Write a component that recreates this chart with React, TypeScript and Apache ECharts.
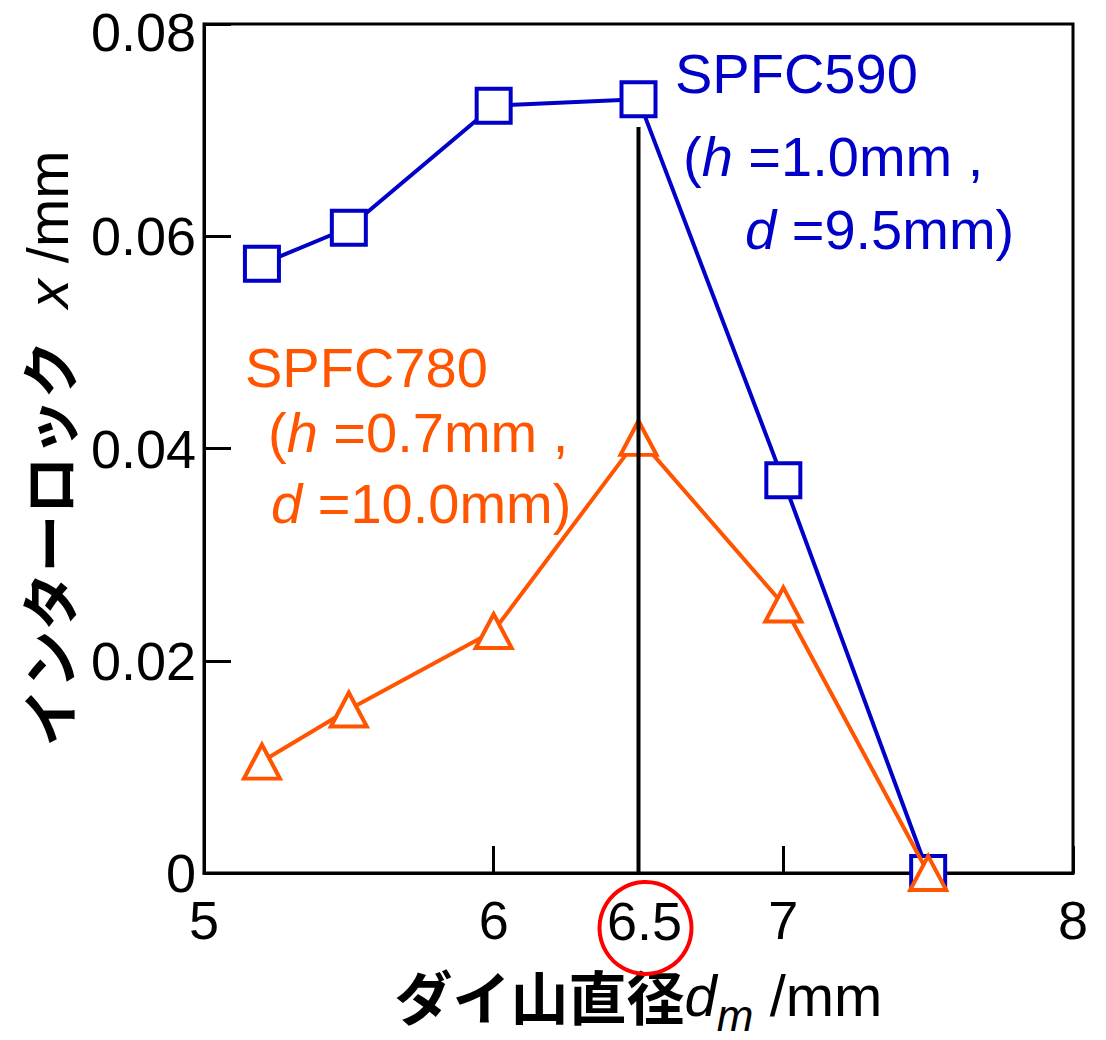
import React, { useEffect, useRef } from 'react';
import * as echarts from 'echarts';

// ---- data ----
const diameters = [5.2, 5.5, 6.0, 6.5, 7.0, 7.5];
const spfc590 = [0.0574, 0.0608, 0.0723, 0.0729, 0.037, 0];
const spfc780 = [0.0105, 0.0154, 0.0228, 0.041, 0.0253, 0];
const markerX = 6.5;
const markerTop = 0.0703;
const xTicks = [5, 6, 7, 8];
const yTicks = [0, 0.02, 0.04, 0.06, 0.08];

const BLUE = '#0000C8';
const ORANGE = '#FF5500';
const LATIN = "'Liberation Sans', Arial, sans-serif";
const CJK = "'Noto Sans CJK JP', 'Noto Sans CJK SC', sans-serif";

export default function App() {
  const ref = useRef<HTMLDivElement>(null);

  useEffect(() => {
    if (!ref.current) return;
    const chart = echarts.init(ref.current, undefined, { renderer: 'svg' });

    const pairs = (ys: number[]) => diameters.map((x, i) => [x, ys[i]]);

    const nameRich = {
      j: { fontFamily: CJK, fontWeight: 'bold', fontSize: 58, color: '#000' },
      i: { fontFamily: LATIN, fontStyle: 'italic', fontSize: 58, color: '#000' },
      n: { fontFamily: LATIN, fontSize: 58, color: '#000' },
      s: { fontFamily: LATIN, fontStyle: 'italic', fontSize: 44, color: '#000', padding: [40, 0, 0, 0] },
    };

    const yMax = yTicks[yTicks.length - 1];

    chart.setOption({
      animation: false,
      backgroundColor: '#fff',
      grid: {
        left: 204,
        right: 33,
        top: 24,
        bottom: 167,
        show: true,
        borderColor: '#000',
        borderWidth: 3,
        outerBoundsMode: 'none',
        containLabel: false,
      },
      xAxis: {
        type: 'value',
        min: xTicks[0],
        max: xTicks[xTicks.length - 1],
        interval: 1,
        axisLine: { lineStyle: { color: '#000', width: 3 } },
        axisTick: { inside: true, length: 27, lineStyle: { color: '#000', width: 3 } },
        axisLabel: { fontSize: 54, color: '#000', fontFamily: LATIN, margin: 25, lineHeight: 44 },
        splitLine: { show: false },
        name: '{j|ダイ山直径}{i|d}{s|m}{n| /mm}',
        nameLocation: 'middle',
        nameGap: 80,
        nameTextStyle: { fontSize: 58, fontFamily: LATIN, color: '#000', rich: nameRich },
      },
      yAxis: {
        type: 'value',
        min: yTicks[0],
        max: yMax,
        interval: 0.02,
        axisLine: { lineStyle: { color: '#000', width: 3 } },
        axisTick: { inside: true, length: 27, lineStyle: { color: '#000', width: 3 } },
        axisLabel: {
          fontSize: 54,
          color: '#000',
          fontFamily: LATIN,
          margin: 8,
          lineHeight: 44,
          formatter: (v: number) =>
            v === 0 ? '0' : v >= yMax - 1e-9 ? '{t|' + v.toFixed(2) + '}' : v.toFixed(2),
          rich: {
            t: { fontSize: 54, fontFamily: LATIN, color: '#000', lineHeight: 44, padding: [16, 0, 0, 0] },
          },
        },
        splitLine: { show: false },
        name: '{j|インターロック}  {i|x} {n|/mm}',
        nameLocation: 'middle',
        nameGap: 128,
        nameTextStyle: { fontSize: 58, fontFamily: LATIN, color: '#000', rich: nameRich },
      },
      series: [
        {
          type: 'line',
          name: 'SPFC590',
          data: pairs(spfc590),
          clip: false,
          symbol: 'rect',
          symbolSize: 34,
          lineStyle: { color: BLUE, width: 4 },
          itemStyle: { color: '#fff', borderColor: BLUE, borderWidth: 4 },
          z: 2,
        },
        {
          type: 'line',
          name: 'SPFC780',
          data: pairs(spfc780),
          clip: false,
          symbol: 'triangle',
          symbolSize: [36, 34],
          lineStyle: { color: ORANGE, width: 4 },
          itemStyle: { color: '#fff', borderColor: ORANGE, borderWidth: 4 },
          z: 3,
        },
        {
          type: 'line',
          name: 'marker',
          data: [[markerX, 0], [markerX, markerTop]],
          symbol: 'none',
          lineStyle: { color: '#000', width: 4 },
          z: 4,
          silent: true,
        },
      ],
    });

    const p = chart.convertToPixel({ gridIndex: 0 }, [markerX, 0]) as number[];
    const annStyle = (color: string) => ({
      fontSize: 56,
      fontFamily: LATIN,
      fill: color,
      align: 'left',
      verticalAlign: 'middle',
      textAlign: 'left',
      textVerticalAlign: 'middle',
    });
    const richFor = (color: string) => ({
      i: { fontSize: 56, fontFamily: LATIN, fontStyle: 'italic', fill: color, color },
      n: { fontSize: 56, fontFamily: LATIN, fill: color, color },
    });

    chart.setOption({
      graphic: [
        {
          type: 'circle',
          shape: { cx: p[0] + 7, cy: p[1] + 55, r: 46 },
          style: { fill: 'none', stroke: '#FF0000', lineWidth: 4 },
          z: 10,
        },
        {
          type: 'text',
          x: p[0] + 6,
          y: p[1] + 48,
          style: {
            text: '6.5',
            fontSize: 54,
            fontFamily: LATIN,
            fill: '#000',
            align: 'center',
            verticalAlign: 'middle',
            textAlign: 'center',
            textVerticalAlign: 'middle',
          },
          z: 10,
        },
        { type: 'text', x: 675, y: 73, style: { ...annStyle(BLUE), text: '{n|SPFC590}', rich: richFor(BLUE) }, z: 10 },
        { type: 'text', x: 683, y: 156, style: { ...annStyle(BLUE), text: '{n|(}{i|h}{n| =1.0mm ,}', rich: richFor(BLUE) }, z: 10 },
        { type: 'text', x: 745, y: 229, style: { ...annStyle(BLUE), text: '{i|d}{n| =9.5mm)}', rich: richFor(BLUE) }, z: 10 },
        { type: 'text', x: 245, y: 367, style: { ...annStyle(ORANGE), text: '{n|SPFC780}', rich: richFor(ORANGE) }, z: 10 },
        { type: 'text', x: 268, y: 432, style: { ...annStyle(ORANGE), text: '{n|(}{i|h}{n| =0.7mm ,}', rich: richFor(ORANGE) }, z: 10 },
        { type: 'text', x: 271, y: 503, style: { ...annStyle(ORANGE), text: '{i|d}{n| =10.0mm)}', rich: richFor(ORANGE) }, z: 10 },
      ],
    });

    return () => chart.dispose();
  }, []);

  return (
    <div
      ref={ref}
      style={{ position: 'fixed', left: 0, top: 0, width: 1106, height: 1040, background: '#fff' }}
    />
  );
}
